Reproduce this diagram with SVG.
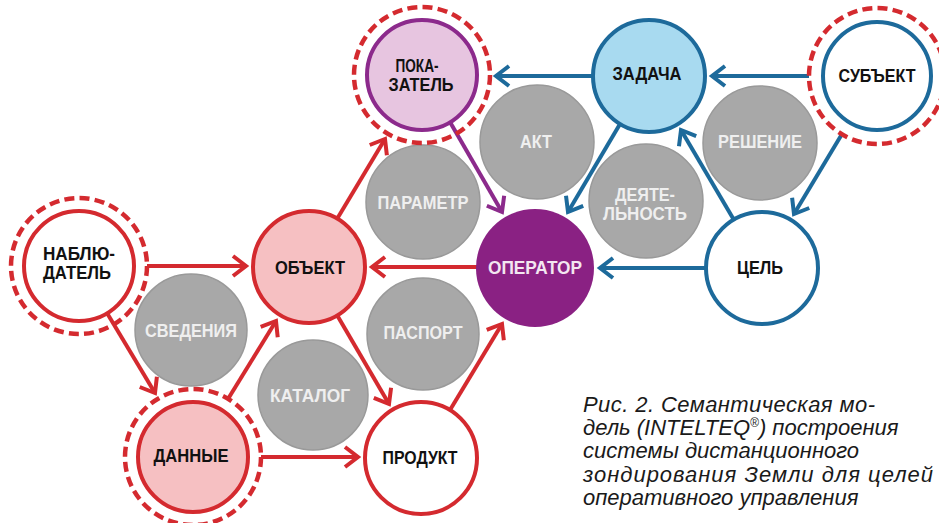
<svg xmlns="http://www.w3.org/2000/svg" width="939" height="523" viewBox="0 0 939 523">
<style>
.lbl{font-family:"Liberation Sans",Arial,sans-serif;font-weight:bold;font-size:19px;text-anchor:middle;fill:#111}
.glbl{font-family:"Liberation Sans",Arial,sans-serif;font-weight:bold;font-size:19px;text-anchor:middle;fill:#efefef}
.gray{fill:#a8a8a8;stroke:#999;stroke-width:1.5}
.red{stroke:#d42a2f;stroke-width:4;fill:none}
.blue{stroke:#1d6a9b;stroke-width:4;fill:none}
.purp{stroke:#8c2a8c;stroke-width:4;fill:none}
.dash{fill:none;stroke:#d42a2f;stroke-width:4.5;stroke-dasharray:10 5.26}
.cap{font-family:"Liberation Sans",Arial,sans-serif;font-style:italic;font-size:22px;fill:#1a1a1a}
</style>
<defs>
<marker id="mr" markerUnits="userSpaceOnUse" orient="auto" refX="0" refY="0" viewBox="-20 -15 26 30" markerWidth="26" markerHeight="30" overflow="visible"><path d="M-13,-10 L0,0 L-13,10" fill="none" stroke="#d42a2f" stroke-width="4"/></marker>
<marker id="mb" markerUnits="userSpaceOnUse" orient="auto" refX="0" refY="0" viewBox="-20 -15 26 30" markerWidth="26" markerHeight="30" overflow="visible"><path d="M-13,-10 L0,0 L-13,10" fill="none" stroke="#1d6a9b" stroke-width="4"/></marker>
<marker id="mp" markerUnits="userSpaceOnUse" orient="auto" refX="0" refY="0" viewBox="-20 -15 26 30" markerWidth="26" markerHeight="30" overflow="visible"><path d="M-13,-10 L0,0 L-13,10" fill="none" stroke="#8c2a8c" stroke-width="4"/></marker>
</defs>

<g id="gray-nodes">
<g id="akt"><circle class="gray" cx="537" cy="142" r="57"/><text class="glbl" x="536" y="148" textLength="32" lengthAdjust="spacingAndGlyphs">АКТ</text></g>
<g id="parametr"><circle class="gray" cx="423" cy="202" r="57"/><text class="glbl" x="423" y="209" textLength="91" lengthAdjust="spacingAndGlyphs">ПАРАМЕТР</text></g>
<g id="pasport"><circle class="gray" cx="423" cy="334" r="56"/><text class="glbl" x="423" y="339" textLength="79" lengthAdjust="spacingAndGlyphs">ПАСПОРТ</text></g>
<g id="katalog"><circle class="gray" cx="313" cy="395" r="55"/><text class="glbl" x="310" y="402" textLength="80" lengthAdjust="spacingAndGlyphs">КАТАЛОГ</text></g>
<g id="svedeniya"><circle class="gray" cx="191" cy="330" r="56"/><text class="glbl" x="191" y="337" textLength="92" lengthAdjust="spacingAndGlyphs">СВЕДЕНИЯ</text></g>
<g id="reshenie"><circle class="gray" cx="760" cy="143" r="57"/><text class="glbl" x="760" y="148" textLength="84" lengthAdjust="spacingAndGlyphs">РЕШЕНИЕ</text></g>
<g id="deyatelnost"><circle class="gray" cx="646" cy="201" r="57"/><text class="glbl" x="645" y="201" textLength="60" lengthAdjust="spacingAndGlyphs" style="font-size:17.5px">ДЕЯТЕ-</text><text class="glbl" x="645" y="220" textLength="84" lengthAdjust="spacingAndGlyphs" style="font-size:17.5px">ЛЬНОСТЬ</text></g>
</g>

<g id="connectors">
<path class="red" d="M147,266 L246,266" marker-end="url(#mr)"/>
<path class="red" d="M107,313 L155,393" marker-end="url(#mr)"/>
<path class="red" d="M228,399 L276,321" marker-end="url(#mr)"/>
<path class="red" d="M261,457 L358,457" marker-end="url(#mr)"/>
<path class="red" d="M337,315 L389,404" marker-end="url(#mr)"/>
<path class="red" d="M450,410 L502,324" marker-end="url(#mr)"/>
<path class="red" d="M477,267 L372,267" marker-end="url(#mr)"/>
<path class="red" d="M337,219 L385,139" marker-end="url(#mr)"/>
<path class="purp" d="M450,122 L502,212" marker-end="url(#mp)"/>
<path class="blue" d="M593,76 L496,76" marker-end="url(#mb)"/>
<path class="blue" d="M809,76 L712,76" marker-end="url(#mb)"/>
<path class="blue" d="M620,124 L568,212" marker-end="url(#mb)"/>
<path class="blue" d="M734,220 L681,130" marker-end="url(#mb)"/>
<path class="blue" d="M842,134 L794,214" marker-end="url(#mb)"/>
<path class="blue" d="M706,268 L600,268" marker-end="url(#mb)"/>
</g>

<g id="nablyudatel"><circle class="dash" cx="79" cy="266" r="68"/><circle cx="79" cy="266" r="55" fill="#fff" stroke="#d42a2f" stroke-width="4"/><text class="lbl" x="79" y="260" textLength="72" lengthAdjust="spacingAndGlyphs">НАБЛЮ-</text><text class="lbl" x="77" y="279" textLength="68" lengthAdjust="spacingAndGlyphs">ДАТЕЛЬ</text></g>
<g id="obekt"><circle cx="309" cy="267" r="56" fill="#f6c0c2" stroke="#d42a2f" stroke-width="4"/><text class="lbl" x="310" y="274" textLength="70" lengthAdjust="spacingAndGlyphs">ОБЪЕКТ</text></g>
<g id="dannye"><circle class="dash" cx="193" cy="457" r="68"/><circle cx="193" cy="457" r="55" fill="#f6c0c2" stroke="#d42a2f" stroke-width="4"/><text class="lbl" x="191" y="462" textLength="75" lengthAdjust="spacingAndGlyphs">ДАННЫЕ</text></g>
<g id="produkt"><circle cx="421" cy="458" r="56" fill="#fff" stroke="#d42a2f" stroke-width="4"/><text class="lbl" x="420" y="464" textLength="75" lengthAdjust="spacingAndGlyphs">ПРОДУКТ</text></g>
<g id="operator"><circle cx="535" cy="268" r="59" fill="#8a2183"/><text class="lbl" x="535" y="274" textLength="94" lengthAdjust="spacingAndGlyphs" style="fill:#f3e6f1">ОПЕРАТОР</text></g>
<g id="pokazatel"><circle class="dash" cx="422" cy="75" r="68"/><circle cx="422" cy="75" r="55" fill="#e7c5e0" stroke="#8c2a8c" stroke-width="4"/><text class="lbl" x="417" y="72" textLength="43" lengthAdjust="spacingAndGlyphs">ПОКА-</text><text class="lbl" x="421" y="91" textLength="65" lengthAdjust="spacingAndGlyphs">ЗАТЕЛЬ</text></g>
<g id="zadacha"><circle cx="649" cy="76" r="56" fill="#a8daf0" stroke="#1d6a9b" stroke-width="4"/><text class="lbl" x="647" y="80" textLength="69" lengthAdjust="spacingAndGlyphs">ЗАДАЧА</text></g>
<g id="subekt"><circle class="dash" cx="877" cy="76" r="68"/><circle cx="877" cy="76" r="54" fill="#fff" stroke="#1d6a9b" stroke-width="4"/><text class="lbl" x="877" y="82" textLength="77" lengthAdjust="spacingAndGlyphs">СУБЪЕКТ</text></g>
<g id="tsel"><circle cx="762" cy="268" r="56" fill="#fff" stroke="#1d6a9b" stroke-width="4"/><text class="lbl" x="760" y="274" textLength="46" lengthAdjust="spacingAndGlyphs">ЦЕЛЬ</text></g>

<g id="caption">
<text class="cap" x="583" y="412" textLength="292" lengthAdjust="spacing">Рис. 2. Семантическая мо-</text>
<text class="cap" x="583" y="435">дель (INTELTEQ<tspan font-size="12" dy="-8">®</tspan><tspan dy="8">) построения</tspan></text>
<text class="cap" x="583" y="458">системы дистанционного</text>
<text class="cap" x="583" y="482" textLength="350" lengthAdjust="spacing">зондирования Земли для целей</text>
<text class="cap" x="583" y="505">оперативного управления</text>
</g>
</svg>
